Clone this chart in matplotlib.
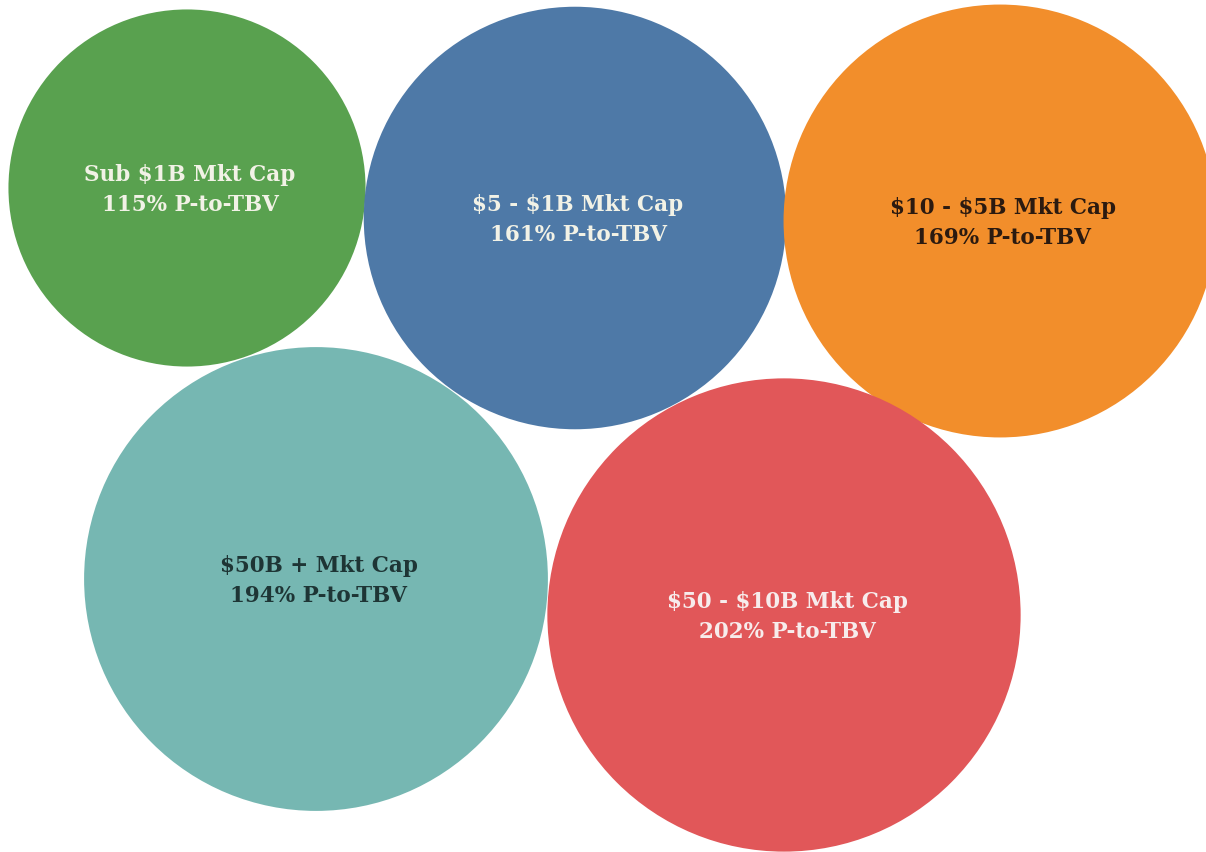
import matplotlib.pyplot as plt
from matplotlib.patches import Circle
import numpy as np

# bubble data
segments = ["Sub $1B Mkt Cap", "$5 - $1B Mkt Cap", "$10 - $5B Mkt Cap",
            "$50B + Mkt Cap", "$50 - $10B Mkt Cap"]
p_to_tbv = [115, 161, 169, 194, 202]

# packed layout (pixel space of the picture)
pos_x = [187, 575, 1000, 316, 784]
pos_y = [188, 218, 221, 579, 615]
colors = ["#59A14F", "#4E79A7", "#F28E2B", "#76B7B2", "#E15759"]
text_colors = ["#F2F2E6", "#F2F2E6", "#2B1A10", "#1E3535", "#F7ECEC"]
scale = 16.65  # radius = scale * sqrt(value), area ~ value

fig = plt.figure(figsize=(12.06, 8.52), dpi=100)
ax = fig.add_axes([0, 0, 1, 1])
ax.set_xlim(0, 1206)
ax.set_ylim(852, 0)
ax.set_aspect("equal")
ax.axis("off")

for name, v, x, y, c, tc in zip(segments, p_to_tbv, pos_x, pos_y, colors, text_colors):
    r = scale * np.sqrt(v)
    ax.add_patch(Circle((x, y), r, facecolor=c, edgecolor="none"))
    ax.text(x + 3, y + 2, f"{name}\n{v}% P-to-TBV", ha="center", va="center",
            color=tc, fontsize=15.5, fontweight="bold", family="DejaVu Serif",
            linespacing=1.45, parse_math=False)

fig.savefig("out.png", dpi=100)
